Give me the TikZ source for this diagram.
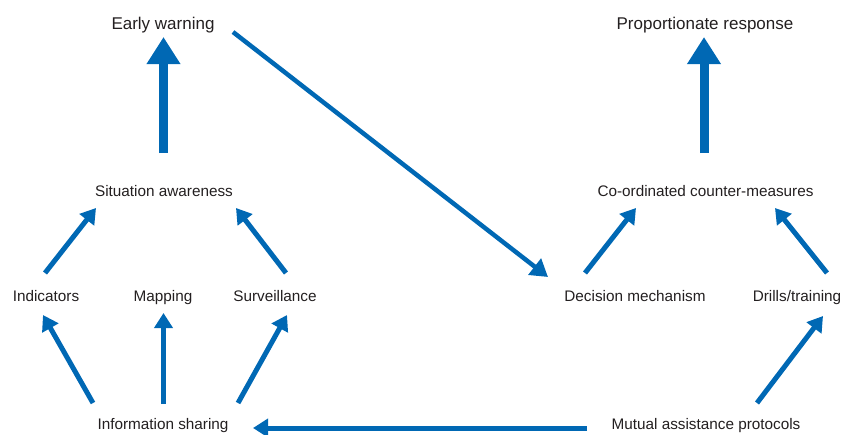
\documentclass[tikz,border=0pt]{standalone}
\usepackage{fontspec}
\setmainfont{Liberation Sans}
\usetikzlibrary{arrows.meta,calc}
\definecolor{arrowblue}{HTML}{0068B4}
\definecolor{txtgray}{HTML}{231F20}
\begin{document}
\begin{tikzpicture}[x=1pt,y=-1pt,
  lbl/.style={anchor=base, inner sep=0pt, text=txtgray, font=\fontsize{15.3}{18}\selectfont},
  toplbl/.style={lbl, font=\fontsize{17}{20}\selectfont},
  conn/.style={draw=arrowblue, line width=5pt, -{Triangle[width=18pt,length=15pt]}},
  slimconn/.style={conn, line width=4.5pt, -{Triangle[width=20pt,length=17pt]}},
  bigconn/.style={draw=arrowblue, line width=9pt, -{Triangle[width=32pt,length=27pt]}}]
\useasboundingbox (0,0) rectangle (843,434);
% nodes
\node[toplbl] (ew)  at (163,29)   {Early warning};
\node[toplbl] (pr)  at (705,29)   {Proportionate response};
\node[lbl]    (sit) at (164,196)  {Situation awareness};
\node[lbl]    (ccm) at (705.5,196){Co-ordinated counter-measures};
\node[lbl]    (ind) at (46,301)   {Indicators};
\node[lbl]    (map) at (163,301)  {Mapping};
\node[lbl]    (sur) at (275,301)  {Surveillance};
\node[lbl]    (dec) at (635,301)  {Decision mechanism};
\node[lbl]    (dri) at (797,301)  {Drills/training};
\node[lbl]    (inf) at (163,429.5){Information sharing};
\node[lbl]    (mut) at (706,429.5){Mutual assistance protocols};
% thick arrows
\draw[bigconn] ($(sit.base)+(-0.5,-43)$) -- ($(ew.base)+(0.5,8)$);
\draw[bigconn] ($(ccm.base)+(-1.5,-43)$) -- ($(pr.base)+(-1,8)$);
% to situation awareness
\draw[conn] ($(ind.base)+(-1,-28)$) -- ($(sit.base)+(-68,12)$);
\draw[conn] ($(sur.base)+(11,-28)$) -- ($(sit.base)+(72,12)$);
% to co-ordinated counter-measures
\draw[conn] ($(dec.base)+(-50,-28)$) -- ($(ccm.base)+(-69.5,12)$);
\draw[conn] ($(dri.base)+(30,-28)$) -- ($(ccm.base)+(69.5,12)$);
% early warning to decision
\draw[slimconn] ($(ew.base)+(70,3)$) -- ($(dec.base)+(-87,-24)$);
% from information sharing
\draw[conn] ($(inf.base)+(-70,-26.5)$) -- ($(ind.base)+(-3,14)$);
\draw[conn] ($(inf.base)+(0.5,-25.5)$) -- ($(map.base)+(0.5,12)$);
\draw[conn] ($(inf.base)+(75,-26.5)$) -- ($(sur.base)+(12,14)$);
% from mutual assistance
\draw[conn] ($(mut.base)+(51,-26.5)$) -- ($(dri.base)+(26,15)$);
\draw[conn] ($(mut.base)+(-119,-1.5)$) -- ($(inf.base)+(90,-1.5)$);
\end{tikzpicture}
\end{document}
